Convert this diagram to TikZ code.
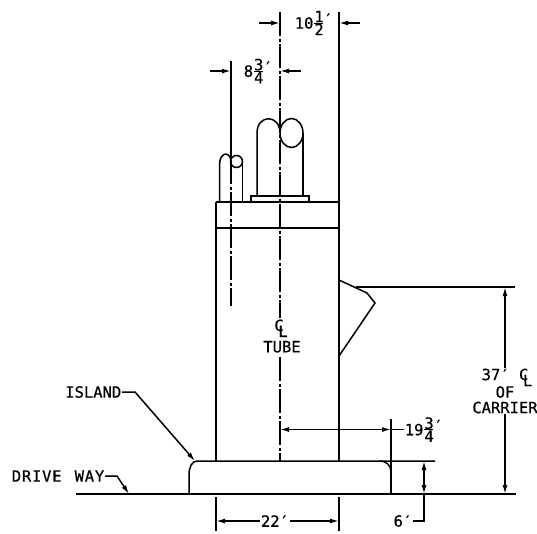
\documentclass[tikz,border=0pt]{standalone}
\usepackage{fontspec}
\usetikzlibrary{arrows.meta}
\setmainfont[FakeBold=0.5]{DejaVu Sans Mono}
\newcommand{\fracmark}[2]{\kern1pt\rlap{\raisebox{6.5pt}{#1}}\rlap{\raisebox{-6.5pt}{#2}}\rlap{\rule[5.15pt]{9pt}{1pt}}\kern9.3pt\raisebox{4pt}{\char"2032}}
\newcommand{\clmark}{\rlap{C}\raisebox{-6pt}{\kern4pt L}\kern-4pt}
\tikzset{
  lbl/.style={font=\fontsize{15.5}{16.5}\selectfont, inner sep=0pt, align=center},
  centre/.style={line width=1.2pt, dash pattern=on 24pt off 2.5pt on 3pt off 2.5pt},
}
\begin{document}
\begin{tikzpicture}[x=1pt, y=-1pt, line width=1.5pt, >={Latex[length=9pt,width=5pt]}]
  \useasboundingbox (0, 0) rectangle (537, 533);
  \foreach \X in {216, 339} {
    \draw (\X, 202) -- (\X, 461);
    \draw (\X, 497) -- (\X, 531);
  }
  \draw (339, 12) -- (339, 202);
  \draw (216, 202) -- (339, 202);
  \draw (216, 228) -- (339, 228);
  \draw (251, 202) -- (251, 196) -- (309, 196) -- (309, 202);
  \draw (257, 196) -- (257, 133) .. controls (257, 114) and (280, 114) .. (280, 133);
  \draw (303, 196) -- (303, 133);
  \draw (291.5, 133) circle [x radius=11.5pt, y radius=14.5pt];
  \draw (219.5, 202) -- (219.5, 165) .. controls (219.5, 151) and (231, 151) .. (231, 162);
  \draw (242.5, 202) -- (242.5, 162);
  \draw (236.5, 161.5) circle [radius=6pt];
  \draw [centre] (280, 12) -- (280, 318);
  \draw [centre] (280, 357) -- (280, 461);
  \draw (231, 61) -- (231, 160);
  \draw [centre] (231, 160) -- (231, 306);
  \draw (339, 280) -- (367, 293) -- (375, 303) -- (339, 356);
  \draw (356, 287) -- (515, 287);
  \draw (76, 494) -- (516, 494);
  \draw (189, 494) -- (189, 475) .. controls (189, 467) and (192, 461) .. (197, 461) -- (435, 461);
  \draw (380, 461) .. controls (386, 461) and (391, 465) .. (391, 472);
  \draw (391, 419) -- (391, 494);
  \node [lbl, anchor=west] (tenlbl) at (294, 23) {10\fracmark{1}{2}};
  \node [lbl, anchor=west] (eightlbl) at (243, 71) {8\fracmark{3}{4}};
  \node [lbl] (tubelbl) at (282, 336) {\clmark\kern6pt\\[3pt]TUBE};
  \node [lbl] (carrierlbl) at (505, 391) {37\char"2032\ \clmark\\[-1pt]OF\\[-1pt]CARRIER};
  \node [lbl, anchor=west] (nineteenlbl) at (404, 429.5) {19\fracmark{3}{4}};
  \node [lbl, anchor=east] (sixlbl) at (413, 521) {6\char"2032};
  \node [lbl] (twentytwolbl) at (275, 521) {22\char"2032};
  \node [lbl, anchor=east] (islandlbl) at (122, 392) {ISLAND};
  \node [lbl, anchor=east] (drivelbl) at (105, 476) {\addfontfeature{LetterSpace=5}DRIVE\kern3pt\ WAY};
  \draw [->] (259, 23) -- (280, 23);
  \draw [->] (360, 23) -- (339, 23);
  \draw [->] (210, 71) -- (231, 71);
  \draw [->] (301, 71) -- (280, 71);
  \draw [<->] (280, 429.5) -- (391, 429.5);
  \draw (391, 429.5) -- (nineteenlbl.west);
  \draw [<-] (505, 287) -- (carrierlbl.north);
  \draw [->] (carrierlbl.south) -- (505, 494);
  \draw [<->] (424, 461) -- (424, 494);
  \draw (424, 494) -- (424, 521) -- (sixlbl.east);
  \draw [<-] (216, 521) -- (twentytwolbl.west);
  \draw [->] (twentytwolbl.east) -- (339, 521);
  \draw [->] (islandlbl.east) -- (135, 392) -- (195, 461);
  \draw [->] (drivelbl.east) -- (117, 476) -- (129, 494);
\end{tikzpicture}
\end{document}
